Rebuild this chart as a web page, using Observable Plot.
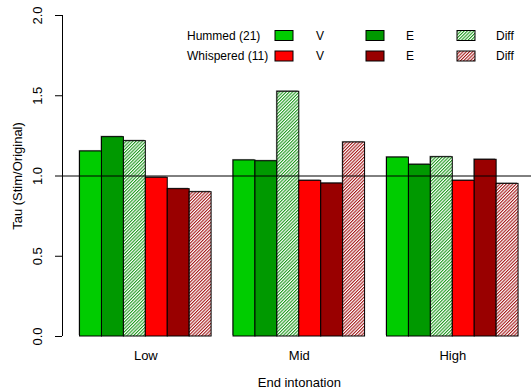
<!DOCTYPE html>
<html>
<head>
<meta charset="utf-8">
<script src="https://cdn.jsdelivr.net/npm/d3@7"></script>
<script src="https://cdn.jsdelivr.net/npm/@observablehq/plot@0.6"></script>
<style>
  html, body { margin: 0; padding: 0; background: white; }
</style>
</head>
<body>
<div id="chart"></div>
<script>
// ---- data ----
const groups = ["Low", "Mid", "High"];
const seriesNames = ["Hummed V", "Hummed E", "Hummed Diff", "Whispered V", "Whispered E", "Whispered Diff"];
const hummedV = [1.153, 1.097, 1.115];
const hummedE = [1.242, 1.092, 1.070];
const hummedDiff = [1.217, 1.525, 1.117];
const whisperedV = [0.989, 0.970, 0.970];
const whisperedE = [0.918, 0.953, 1.101];
const whisperedDiff = [0.899, 1.209, 0.951];
const yTicks = [0, 0.5, 1, 1.5, 2];
const yTickLabels = ["0.0", "0.5", "1.0", "1.5", "2.0"];
const legendRows = ["Hummed (21)", "Whispered (11)"];
const legendCols = ["V", "E", "Diff"];
const seriesFill = ["#00CC00", "#009900", "url(#hatchHum)", "#FF0000", "#990000", "url(#hatchWhisp)"];

const seriesValues = [hummedV, hummedE, hummedDiff, whisperedV, whisperedE, whisperedDiff];
const data = [];
groups.forEach((g, gi) => {
  seriesNames.forEach((s, si) => {
    const pos = gi * 7 + 1 + si; // R barplot: one-bar space before each group
    data.push({group: g, series: s, value: seriesValues[si][gi], x1: pos, x2: pos + 1, fill: seriesFill[si]});
  });
});
const groupCenters = groups.map((g, gi) => ({label: g, x: gi * 7 + 4}));

const font = "'Liberation Sans', Arial, Helvetica, sans-serif";

const chart = Plot.plot({
  width: 531,
  height: 392,
  marginLeft: 62,
  marginRight: 0,
  marginTop: 15,
  marginBottom: 56,
  style: {fontFamily: font, fontSize: "13px", background: "white", overflow: "visible"},
  x: {domain: [0.2, 21.8], range: [62, 535.6], axis: null},
  y: {domain: [0, 2], axis: null},
  color: {type: "identity"},
  marks: [
    // shadow
    Plot.rectY(data, {x1: "x1", x2: "x2", y: "value", fill: "#a0a0a0", dx: -1, dy: -1}),
    Plot.rectY(data, {x1: "x1", x2: "x2", y: "value", fill: "fill", stroke: "black", strokeWidth: 1}),
    Plot.ruleY([1], {stroke: "black", strokeWidth: 1}),
    // y axis
    Plot.ruleX([0.2], {y1: 0, y2: 2, stroke: "black"}),
    Plot.axisY(yTicks, {tickSize: 7, tickFormat: () => "", stroke: "black", label: null}),
    Plot.text(yTicks, {y: d => d, text: (d, i) => yTickLabels[i], frameAnchor: "left", dx: -25, rotate: -90, textAnchor: "middle", fontSize: 13, fill: "#000"}),
    Plot.text(["Tau (Stim/Original)"], {y: 1, frameAnchor: "left", dx: -45, rotate: -90, textAnchor: "middle", fontSize: 13, fill: "#000"}),
    // x labels
    Plot.text(groupCenters, {x: "x", text: "label", frameAnchor: "bottom", dy: 23, fontSize: 13, fill: "#000"}),
    Plot.text(["End intonation"], {x: 11, frameAnchor: "bottom", dy: 50, fontSize: 13, fill: "#000"})
  ]
});

const svg = d3.select(chart);

// patterns
const defs = svg.insert("defs", ":first-child");
function hatch(id, color) {
  const p = defs.append("pattern")
    .attr("id", id)
    .attr("patternUnits", "userSpaceOnUse")
    .attr("width", 2.3)
    .attr("height", 10)
    .attr("patternTransform", "rotate(45)");
  p.append("rect").attr("width", 2.3).attr("height", 10).attr("fill", "white");
  p.append("rect").attr("width", 1.1).attr("height", 10).attr("fill", color);
}
hatch("hatchHum", "#1f9a1f");
hatch("hatchWhisp", "#a51a1a");

// legend (inside plot, as in the reference)
const legendFills = [["#00CC00", "#009900", "url(#hatchHum)"], ["#FF0000", "#990000", "url(#hatchWhisp)"]];
const rowY = [35.5, 56];
const boxX = [275, 366, 457];
const labX = [316, 406, 496];
const lg = svg.append("g").attr("font-family", font).attr("font-size", 12).attr("text-anchor", "start");
legendRows.forEach((r, ri) => {
  lg.append("text").attr("x", 187).attr("y", rowY[ri]).attr("dy", "0.35em").text(r);
  legendCols.forEach((c, ci) => {
    lg.append("rect").attr("x", boxX[ci]).attr("y", rowY[ri] - 5).attr("width", 18).attr("height", 10)
      .attr("fill", legendFills[ri][ci]).attr("stroke", "black").attr("stroke-width", 1);
    lg.append("text").attr("x", labX[ci]).attr("y", rowY[ri]).attr("dy", "0.35em").text(c);
  });
});

document.getElementById("chart").appendChild(chart);
</script>
</body>
</html>
